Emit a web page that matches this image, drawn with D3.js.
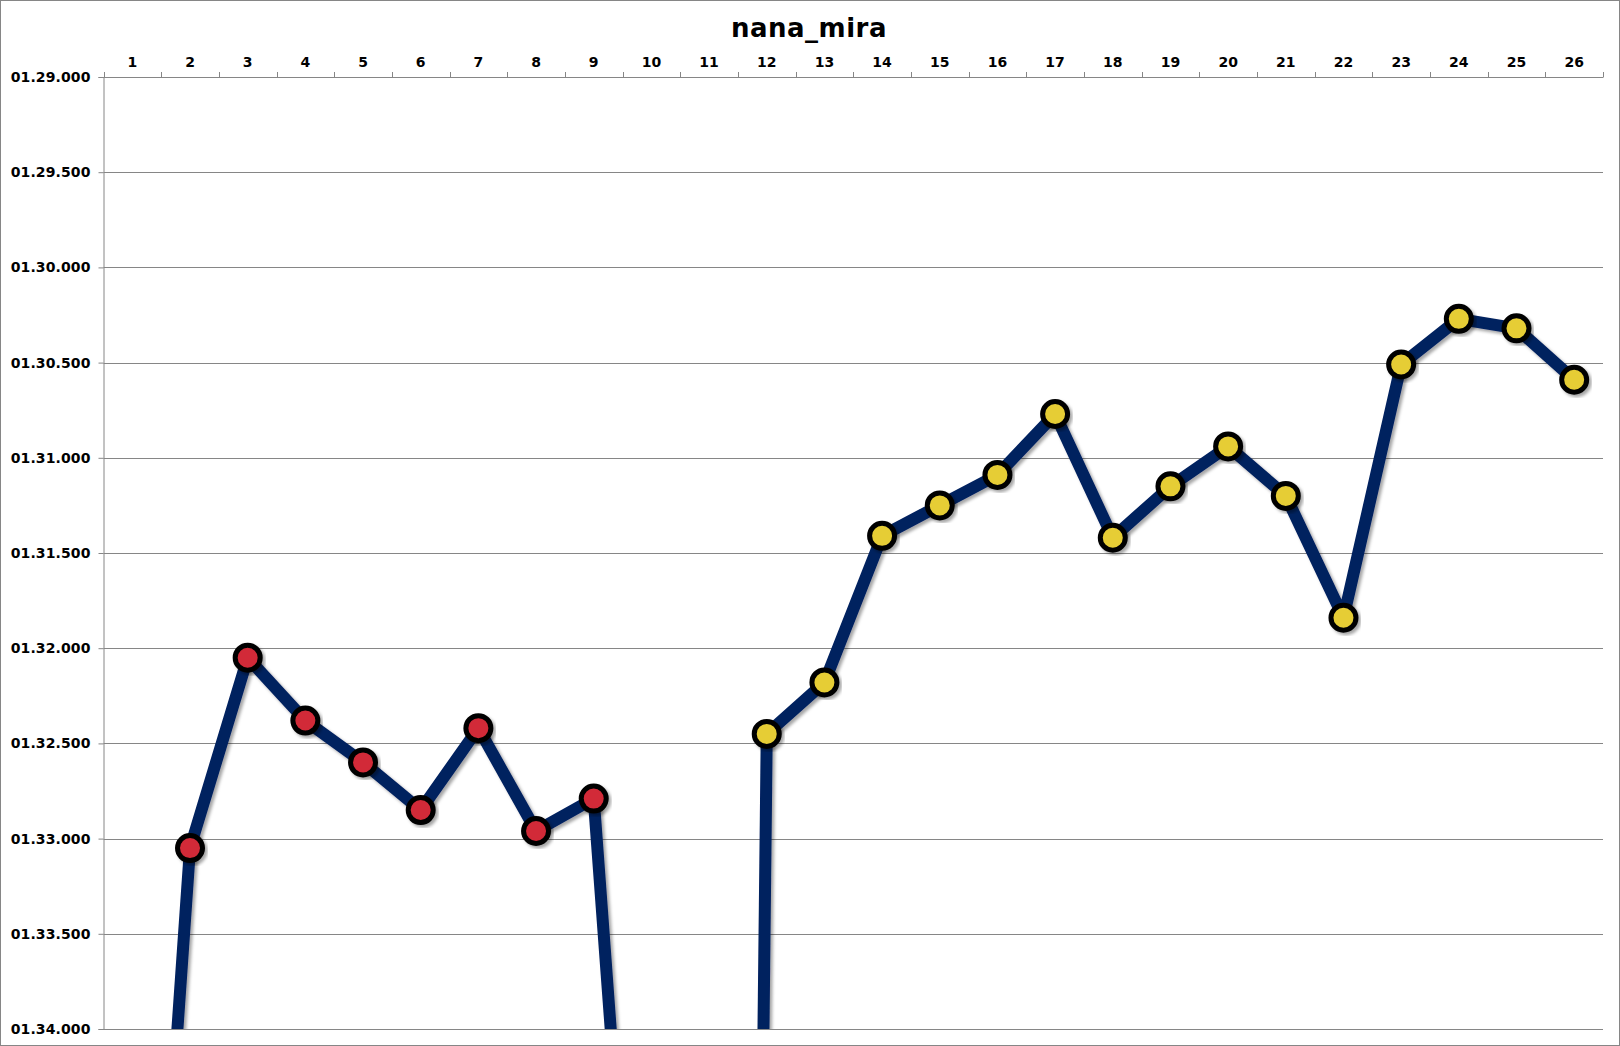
<!DOCTYPE html>
<html><head><meta charset="utf-8">
<script src="https://cdn.jsdelivr.net/npm/d3@7"></script>
<style>
html,body{margin:0;padding:0;background:#fff;}
svg{display:block;}
text{font-family:"DejaVu Sans",sans-serif;font-weight:bold;fill:#000;}
</style></head>
<body>
<svg id="chart" width="1620" height="1046"></svg>
<script>
const title = "nana_mira";
const laps = ["1","2","3","4","5","6","7","8","9","10","11","12","13","14","15","16","17","18","19","20","21","22","23","24","25","26"];
// lap times in seconds
const lapTimes = [97.4, 93.05, 92.05, 92.38, 92.6, 92.85, 92.42, 92.96, 92.79, 96.9, 120.0, 92.45, 92.18, 91.41, 91.25, 91.09, 90.77, 91.42, 91.15, 90.94, 91.2, 91.84, 90.51, 90.27, 90.32, 90.59];
const stint = [1,1,1,1,1,1,1,1,1,1,2,2,2,2,2,2,2,2,2,2,2,2,2,2,2,2];
const yTicks = [89.0, 89.5, 90.0, 90.5, 91.0, 91.5, 92.0, 92.5, 93.0, 93.5, 94.0];
const stintColors = {1:"#d22a37", 2:"#e6cd36"};

const W=1620,H=1046;
const m={left:103.5,right:1603,top:77,bottom:1029};
const svg=d3.select("#chart");

const defs=svg.append("defs");
const f=defs.append("filter").attr("id","sh").attr("x","-20%").attr("y","-20%").attr("width","140%").attr("height","140%");
f.append("feDropShadow").attr("dx",2.5).attr("dy",2.5).attr("stdDeviation",1.6).attr("flood-color","#000").attr("flood-opacity",0.35);
defs.append("clipPath").attr("id","clip").append("rect")
  .attr("x",m.left).attr("y",m.top).attr("width",m.right-m.left).attr("height",m.bottom-m.top);

// outer frame
svg.append("rect").attr("x",0.5).attr("y",0.5).attr("width",W-1).attr("height",H-1)
  .attr("fill","#fff").attr("stroke","#868686").attr("stroke-width",1);

const x=d3.scaleBand().domain(laps).range([m.left,m.right]).paddingInner(0).paddingOuter(0);
const y=d3.scaleLinear().domain([89,94]).range([m.top,m.bottom]);

function fmt(v){
  const ms=Math.round(v*1000);
  const mins=Math.floor(ms/60000);
  const secs=Math.floor((ms%60000)/1000);
  const milli=ms%1000;
  return String(mins).padStart(2,"0")+"."+String(secs).padStart(2,"0")+"."+String(milli).padStart(3,"0");
}

// gridlines
svg.append("g").selectAll("line").data(yTicks).join("line")
  .attr("x1",m.left).attr("x2",m.right)
  .attr("y1",d=>Math.round(y(d))+0.5).attr("y2",d=>Math.round(y(d))+0.5)
  .attr("stroke","#868686").attr("stroke-width",1);

// y axis
const yAxis=svg.append("g").attr("transform",`translate(${m.left},0)`)
  .call(d3.axisLeft(y).tickValues(yTicks).tickFormat(fmt).tickSize(5).tickPadding(8));
yAxis.select(".domain").attr("stroke","#868686");
yAxis.selectAll(".tick line").attr("stroke","#868686");
yAxis.selectAll(".tick text").attr("font-size",14).attr("font-family","DejaVu Sans").attr("font-weight","bold")
  .attr("letter-spacing","0.1px").attr("fill","#000");

// x axis (top)
const xAxis=svg.append("g").attr("transform",`translate(0,${m.top})`)
  .call(d3.axisTop(x).tickSize(0).tickPadding(10));
xAxis.select(".domain").attr("stroke","#868686");
xAxis.selectAll(".tick text").attr("font-size",14).attr("font-family","DejaVu Sans").attr("font-weight","bold")
  .attr("fill","#000");
// tick marks at category boundaries
const bounds=laps.map(d=>x(d)).concat([x(laps[laps.length-1])+x.bandwidth()]);
svg.append("g").selectAll("line").data(bounds).join("line")
  .attr("x1",d=>Math.round(d)+0.5).attr("x2",d=>Math.round(d)+0.5)
  .attr("y1",m.top-5).attr("y2",m.top)
  .attr("stroke","#868686");

// title
svg.append("text").attr("x",809).attr("y",37).attr("text-anchor","middle")
  .attr("font-size",26).attr("letter-spacing","0.5px").text(title);

const data=laps.map((l,i)=>({lap:l,t:lapTimes[i],s:stint[i]}));
const cx=d=>x(d.lap)+x.bandwidth()/2;

const g=svg.append("g").attr("clip-path","url(#clip)");
g.append("path").datum(data)
  .attr("d",d3.line().x(cx).y(d=>y(d.t)))
  .attr("fill","none").attr("stroke","#00205f").attr("stroke-width",12)
  .attr("stroke-linejoin","round").attr("filter","url(#sh)");

g.selectAll("circle").data(data.filter(d=>d.t<=94)).join("circle")
  .attr("cx",cx).attr("cy",d=>y(d.t)).attr("r",12.5)
  .attr("fill",d=>stintColors[d.s]).attr("stroke","#000").attr("stroke-width",5)
  .attr("filter","url(#sh)");
</script>
</body></html>
